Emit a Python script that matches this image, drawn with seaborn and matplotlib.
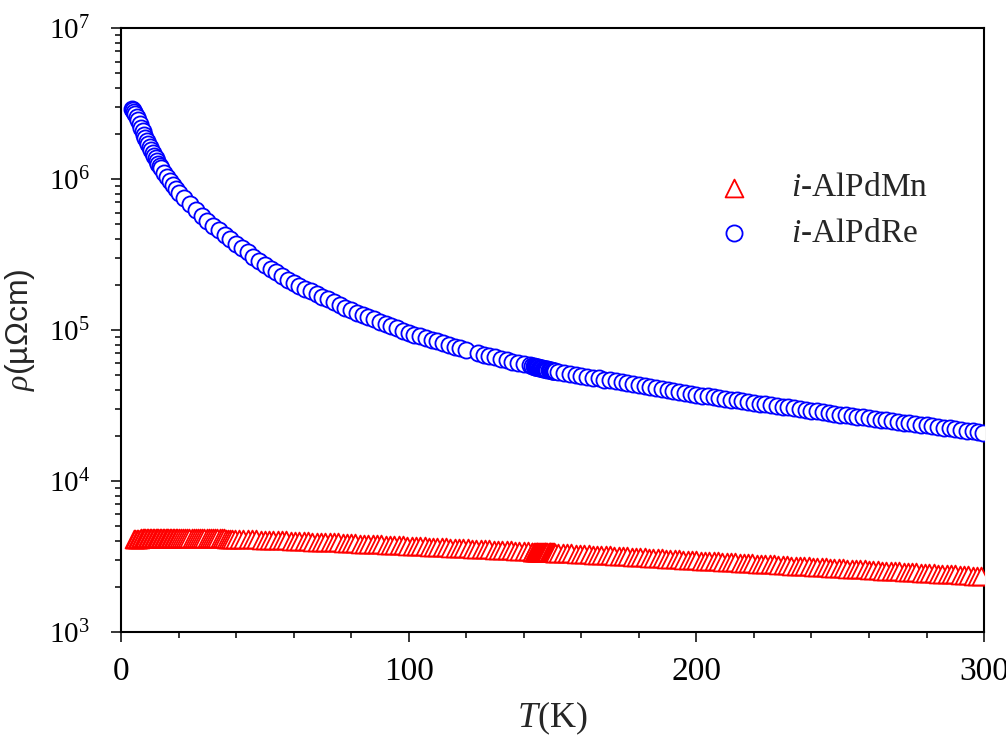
import matplotlib
matplotlib.use("Agg")
import matplotlib.pyplot as plt
import matplotlib.ticker as mticker
import numpy as np
import pandas as pd
import seaborn as sns

"""
Resistivity vs temperature of two icosahedral quasicrystals (log scale)
"""

# --- i-AlPdRe (blue circles): temperature (K) and log10(rho / µΩcm)
t_re_low = [3.8, 4.0, 4.5, 5.0, 5.5, 6.0, 6.5, 7.0, 7.5, 8.0, 8.5, 9.0, 9.5, 10.0,
            10.5, 11.0, 11.5, 12.0, 12.5, 13.0, 13.5, 14.0, 15.0, 16.0, 17.0, 18.0, 19.0]
lg_re_low = [6.465, 6.460, 6.445, 6.430, 6.410, 6.390, 6.365, 6.340, 6.315, 6.290, 6.270, 6.250, 6.230, 6.210,
             6.190, 6.170, 6.155, 6.140, 6.120, 6.100, 6.085, 6.070, 6.040, 6.010, 5.985, 5.960, 5.935]

t_re_mid = [20, 22, 24, 26, 28, 30, 32, 34, 36, 38, 40, 42, 44, 46, 48, 50, 52, 54, 56, 58,
            60, 62, 64, 66, 68, 70, 72, 74, 76, 78, 80, 82, 84, 86, 88, 90, 92, 94, 96, 98,
            100, 102, 104, 106, 108, 110, 112, 114, 116, 118, 120]
lg_re_mid = [5.910, 5.872, 5.834, 5.796, 5.758, 5.720, 5.690, 5.660, 5.630, 5.600,
             5.570, 5.542, 5.514, 5.486, 5.458, 5.430, 5.406, 5.382, 5.358, 5.334,
             5.310, 5.292, 5.274, 5.256, 5.238, 5.220, 5.202, 5.184, 5.166, 5.148,
             5.130, 5.115, 5.100, 5.085, 5.070, 5.055, 5.040, 5.025, 5.010, 4.995,
             4.980, 4.969, 4.958, 4.946, 4.935, 4.924, 4.913, 4.902, 4.890, 4.879, 4.868]

t_re_high = [124, 126, 128, 130, 132, 134, 136, 138, 140, 142, 144, 146, 148, 150,
             152, 154, 156, 158, 160, 162, 164, 166, 168, 170, 172, 174, 176, 178, 180,
             182, 184, 186, 188, 190, 192, 194, 196, 198, 200,
             202, 204, 206, 208, 210, 212, 214, 216, 218, 220, 222, 224, 226, 228, 230,
             232, 234, 236, 238, 240, 242, 244, 246, 248, 250,
             252, 254, 256, 258, 260, 262, 264, 266, 268, 270, 272, 274, 276, 278, 280,
             282, 284, 286, 288, 290, 292, 294, 296, 298, 299.5]
lg_re_high = [4.846, 4.835, 4.826, 4.818, 4.809, 4.800, 4.791, 4.782, 4.774, 4.765, 4.756, 4.747, 4.739, 4.730,
              4.724, 4.717, 4.711, 4.704, 4.698, 4.692, 4.685, 4.679, 4.672, 4.666, 4.659, 4.653, 4.647, 4.640, 4.634,
              4.627, 4.621, 4.615, 4.608, 4.602, 4.595, 4.589, 4.583, 4.576, 4.570,
              4.565, 4.560, 4.554, 4.549, 4.544, 4.539, 4.534, 4.528, 4.523, 4.518, 4.513, 4.508, 4.502, 4.497, 4.492,
              4.487, 4.482, 4.476, 4.471, 4.466, 4.461, 4.456, 4.450, 4.445, 4.440,
              4.435, 4.430, 4.426, 4.421, 4.416, 4.411, 4.406, 4.402, 4.397, 4.392, 4.387, 4.382, 4.378, 4.373, 4.368,
              4.363, 4.358, 4.354, 4.349, 4.344, 4.339, 4.334, 4.330, 4.325, 4.321]

# dense second sweep around 145 K
t_re_extra = [143.0, 143.4, 143.8, 144.2, 144.6, 145.0, 145.4, 145.8, 146.2, 146.6, 147.0,
              147.4, 147.8, 148.2, 148.6, 149.0, 149.4, 149.8, 150.2, 150.6, 151.0]
lg_re_extra = [4.761, 4.759, 4.757, 4.755, 4.754, 4.752, 4.750, 4.748, 4.747, 4.745, 4.743,
               4.741, 4.739, 4.738, 4.736, 4.734, 4.733, 4.731, 4.729, 4.728, 4.727]

# --- i-AlPdMn (red triangles)
t_mn_low = [4.5, 5.0, 5.5, 6.0, 6.5, 7.0, 7.5, 8.0, 8.5, 9.0, 9.5, 10.0, 10.5, 11.0, 11.5, 12.0,
            12.5, 13.0, 13.5, 14.0, 14.5, 15.0, 15.5, 16.0, 16.5, 17.0, 17.5, 18.0, 18.5, 19.0, 19.5, 20.0]
lg_mn_low = [3.616, 3.617, 3.618, 3.619, 3.619, 3.620, 3.620, 3.621, 3.621, 3.621, 3.622, 3.622, 3.622, 3.622, 3.623, 3.623,
             3.623, 3.623, 3.624, 3.624, 3.624, 3.624, 3.625, 3.625, 3.625, 3.625, 3.625, 3.625, 3.625, 3.625, 3.625, 3.625]

t_mn_mid = [20.75, 21.5, 22.25, 23.0, 23.75, 24.5, 25.25, 26.0, 26.75, 27.5, 28.25, 29.0, 29.75,
            30.5, 31.25, 32.0, 32.75, 33.5, 34.25, 35.0, 35.75, 36.5, 37.25, 38.0, 38.75, 39.5]
lg_mn_mid = [3.625, 3.625, 3.625, 3.624, 3.624, 3.624, 3.624, 3.624, 3.623, 3.623, 3.623, 3.622, 3.622,
             3.622, 3.622, 3.621, 3.621, 3.621, 3.620, 3.620, 3.620, 3.619, 3.619, 3.618, 3.618, 3.617]

t_mn_high = [41, 42.5, 44, 45.5, 47, 48.5, 50, 51.5, 53, 54.5,
             56, 57.5, 59, 60.5, 62, 63.5, 65, 66.5, 68, 69.5,
             71, 72.5, 74, 75.5, 77, 78.5, 80, 81.5, 83, 84.5,
             86, 87.5, 89, 90.5, 92, 93.5, 95, 96.5, 98, 99.5,
             101, 102.5, 104, 105.5, 107, 108.5, 110, 111.5, 113, 114.5,
             116, 117.5, 119, 120.5, 122, 123.5, 125, 126.5, 128, 129.5,
             131, 132.5, 134, 135.5, 137, 138.5, 140, 141.5, 143, 144.5,
             146, 147.5, 149, 150.5, 152, 153.5, 155, 156.5, 158, 159.5,
             161, 162.5, 164, 165.5, 167, 168.5, 170, 171.5, 173, 174.5,
             176, 177.5, 179, 180.5, 182, 183.5, 185, 186.5, 188, 189.5,
             191, 192.5, 194, 195.5, 197, 198.5, 200, 201.5, 203, 204.5,
             206, 207.5, 209, 210.5, 212, 213.5, 215, 216.5, 218, 219.5,
             221, 222.5, 224, 225.5, 227, 228.5, 230, 231.5, 233, 234.5,
             236, 237.5, 239, 240.5, 242, 243.5, 245, 246.5, 248, 249.5,
             251, 252.5, 254, 255.5, 257, 258.5, 260, 261.5, 263, 264.5,
             266, 267.5, 269, 270.5, 272, 273.5, 275, 276.5, 278, 279.5,
             281, 282.5, 284, 285.5, 287, 288.5, 290, 291.5, 293, 294.5,
             296, 297.5, 299]
lg_mn_high = [3.616, 3.616, 3.615, 3.614, 3.613, 3.612, 3.611, 3.610, 3.609, 3.608,
              3.607, 3.606, 3.605, 3.604, 3.603, 3.602, 3.600, 3.599, 3.598, 3.597,
              3.596, 3.595, 3.594, 3.593, 3.591, 3.590, 3.589, 3.588, 3.586, 3.585,
              3.584, 3.582, 3.581, 3.580, 3.578, 3.577, 3.575, 3.574, 3.573, 3.571,
              3.570, 3.569, 3.568, 3.567, 3.565, 3.564, 3.563, 3.562, 3.560, 3.559,
              3.558, 3.556, 3.555, 3.554, 3.552, 3.551, 3.550, 3.548, 3.547, 3.545,
              3.544, 3.543, 3.541, 3.540, 3.539, 3.537, 3.536, 3.535, 3.533, 3.532,
              3.531, 3.529, 3.528, 3.527, 3.525, 3.523, 3.522, 3.520, 3.519, 3.518,
              3.516, 3.514, 3.513, 3.511, 3.510, 3.508, 3.507, 3.505, 3.503, 3.502,
              3.500, 3.498, 3.497, 3.495, 3.494, 3.492, 3.491, 3.489, 3.488, 3.486,
              3.485, 3.483, 3.481, 3.480, 3.478, 3.477, 3.475, 3.473, 3.472, 3.470,
              3.469, 3.467, 3.466, 3.464, 3.462, 3.461, 3.459, 3.458, 3.456, 3.455,
              3.453, 3.451, 3.450, 3.448, 3.447, 3.445, 3.444, 3.442, 3.440, 3.439,
              3.437, 3.436, 3.434, 3.433, 3.431, 3.429, 3.428, 3.426, 3.425, 3.423,
              3.422, 3.420, 3.418, 3.417, 3.415, 3.414, 3.412, 3.411, 3.409, 3.407,
              3.406, 3.404, 3.403, 3.401, 3.400, 3.398, 3.396, 3.395, 3.393, 3.392,
              3.390, 3.389, 3.387, 3.385, 3.384, 3.382, 3.381, 3.379, 3.377, 3.376,
              3.374, 3.373, 3.371]

t_mn_extra = [143.0, 143.4, 143.8, 144.2, 144.6, 145.0, 145.4, 145.8, 146.2, 146.6, 147.0,
              147.4, 147.8, 148.2, 148.6, 149.0, 149.4, 149.8, 150.2, 150.6, 151.0]
lg_mn_extra = [3.533, 3.533, 3.532, 3.532, 3.532, 3.531, 3.531, 3.531, 3.530, 3.530, 3.530,
               3.529, 3.529, 3.528, 3.528, 3.528, 3.527, 3.527, 3.527, 3.526, 3.526]

LABEL_MN = r'$\mathit{i}$-AlPdMn'
LABEL_RE = r'$\mathit{i}$-AlPdRe'


def build_frame(t_parts, lg_parts, name):
    t = np.concatenate([np.asarray(p, dtype=float) for p in t_parts])
    lg = np.concatenate([np.asarray(p, dtype=float) for p in lg_parts])
    df = pd.DataFrame({'T': t, 'rho': 10.0 ** lg, 'sample': name})
    return df.sort_values('T').reset_index(drop=True)


mn = build_frame([t_mn_low, t_mn_mid, t_mn_high, t_mn_extra],
                 [lg_mn_low, lg_mn_mid, lg_mn_high, lg_mn_extra], LABEL_MN)
re = build_frame([t_re_low, t_re_mid, t_re_high, t_re_extra],
                 [lg_re_low, lg_re_mid, lg_re_high, lg_re_extra], LABEL_RE)

sns.set_theme(style='ticks')
plt.rcParams['font.family'] = ['Liberation Serif', 'DejaVu Serif']
plt.rcParams['mathtext.fontset'] = 'custom'
plt.rcParams['mathtext.rm'] = 'Liberation Serif'
plt.rcParams['mathtext.it'] = 'Liberation Serif:italic'
plt.rcParams['axes.linewidth'] = 1.5
plt.rcParams['axes.edgecolor'] = 'black'

fig = plt.figure(figsize=(10.06, 7.45), dpi=100)
ax = fig.add_axes([0.1203, 0.1517, 0.8579, 0.8107])

sns.scatterplot(data=mn, x='T', y='rho', marker='^', s=165, color='white',
                edgecolor='red', linewidth=1.3, label=LABEL_MN, ax=ax, zorder=3)
sns.scatterplot(data=re, x='T', y='rho', marker='o', s=135, color='white',
                edgecolor='blue', linewidth=1.3, label=LABEL_RE, ax=ax, zorder=3)

ax.set_yscale('log')
ax.set_xlim(0, 300)
ax.set_ylim(1e3, 1e7)
ax.xaxis.set_major_locator(mticker.MultipleLocator(100))
ax.xaxis.set_minor_locator(mticker.MultipleLocator(20))
ax.yaxis.set_major_locator(mticker.LogLocator(base=10, numticks=10))
ax.yaxis.set_minor_locator(mticker.LogLocator(base=10, subs=np.arange(2, 10), numticks=20))
ax.yaxis.set_major_formatter(mticker.LogFormatterMathtext())
ax.yaxis.set_minor_formatter(mticker.NullFormatter())

ax.tick_params(which='both', direction='out', top=False, right=False, width=1.1, colors='black')
ax.tick_params(which='major', length=7.5)
ax.tick_params(axis='x', which='major', pad=10, labelsize=24)
ax.tick_params(axis='y', which='major', pad=15, labelsize=21)
ax.tick_params(which='minor', length=4.5)

ax.set_xlabel(r'$\mathit{T}$(K)', fontsize=26)
ax.set_ylabel(r'$\rho$(µΩcm)', fontsize=23, family=['Liberation Sans', 'DejaVu Sans'])
ax.xaxis.set_label_coords(0.5, -0.112)
ax.yaxis.set_label_coords(-0.097, 0.5)

ax.legend(loc='upper left', bbox_to_anchor=(0.637, 0.81), frameon=False, fontsize=24,
          handletextpad=0.7, labelspacing=0.45, borderpad=0.4, scatterpoints=1)

for side in ['top', 'right', 'left', 'bottom']:
    ax.spines[side].set_visible(True)
    ax.spines[side].set_color('black')

fig.savefig('out.png', dpi=100)
